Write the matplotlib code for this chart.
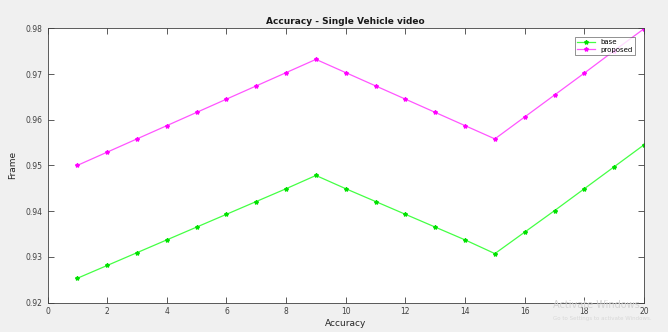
import numpy as np
import matplotlib
matplotlib.use('Agg')
from matplotlib import pyplot as plt

# values
frames = list(range(1, 21))
base = [0.9253, 0.9281, 0.9309, 0.9337, 0.9365, 0.9393, 0.9421, 0.9449, 0.9478,
        0.9449, 0.9421, 0.9393, 0.9365, 0.9337, 0.9307,
        0.9354, 0.9401, 0.9449, 0.9497, 0.9545]
proposed = [0.9500, 0.9529, 0.9558, 0.9587, 0.9616, 0.9645, 0.9674, 0.9703, 0.9732,
            0.9703, 0.9674, 0.9645, 0.9616, 0.9587, 0.9558,
            0.9606, 0.9654, 0.9702, 0.9751, 0.9799]
x_ticks = np.arange(0, 22, 2)
y_ticks = [0.92, 0.93, 0.94, 0.95, 0.96, 0.97, 0.98]

bg = '#f0f0f0'
fig = plt.figure(figsize=(6.68, 3.32), dpi=100, facecolor=bg)
ax = fig.add_axes([47.5/668, 1 - 302.5/332, (644 - 47.5)/668, (302.5 - 28.3)/332])

ax.plot(frames, base, color='#44ff44', marker='*', markersize=3, linewidth=0.9,
        markeredgecolor='#00e000', label='base')
ax.plot(frames, proposed, color='#ff55ff', marker='*', markersize=3, linewidth=0.9,
        markeredgecolor='#ff00ff', label='proposed')

ax.set_xlim(0, 20)
ax.set_ylim(0.92, 0.98)
ax.set_xticks(x_ticks)
ax.set_xticklabels([str(t) for t in x_ticks])
ax.set_yticks(y_ticks)
ax.set_yticklabels(['%.2f' % t for t in y_ticks])
ax.tick_params(direction='in', top=True, right=True, length=4, width=0.6,
               labelsize=5.5, colors='#404040', pad=3.5)
for s in ax.spines.values():
    s.set_color('#404040')
    s.set_linewidth(0.6)

ax.set_title('Accuracy - Single Vehicle video', fontsize=6.5, fontweight='bold', pad=3, color='#1a1a1a')
ax.set_xlabel('Accuracy', fontsize=6.5, labelpad=2, color='#262626')
ax.set_ylabel('Frame', fontsize=6.5, labelpad=6, color='#262626')

leg = ax.legend(loc='upper right', fontsize=5, frameon=True, fancybox=False,
                handlelength=2.5, borderpad=0.3, labelspacing=0.2,
                bbox_to_anchor=(0.99, 0.98))
leg.get_frame().set_edgecolor('#404040')
leg.get_frame().set_linewidth(0.5)

# screenshot watermark
fig.text(553/668, 1 - 308/332, 'Activate Windows', fontsize=7, color='#d4d4d4', zorder=0)
fig.text(553/668, 1 - 320/332, 'Go to Settings to activate Windows.', fontsize=4, color='#d8d8d8', zorder=0)

fig.savefig('out.png', dpi=100, facecolor=bg)
